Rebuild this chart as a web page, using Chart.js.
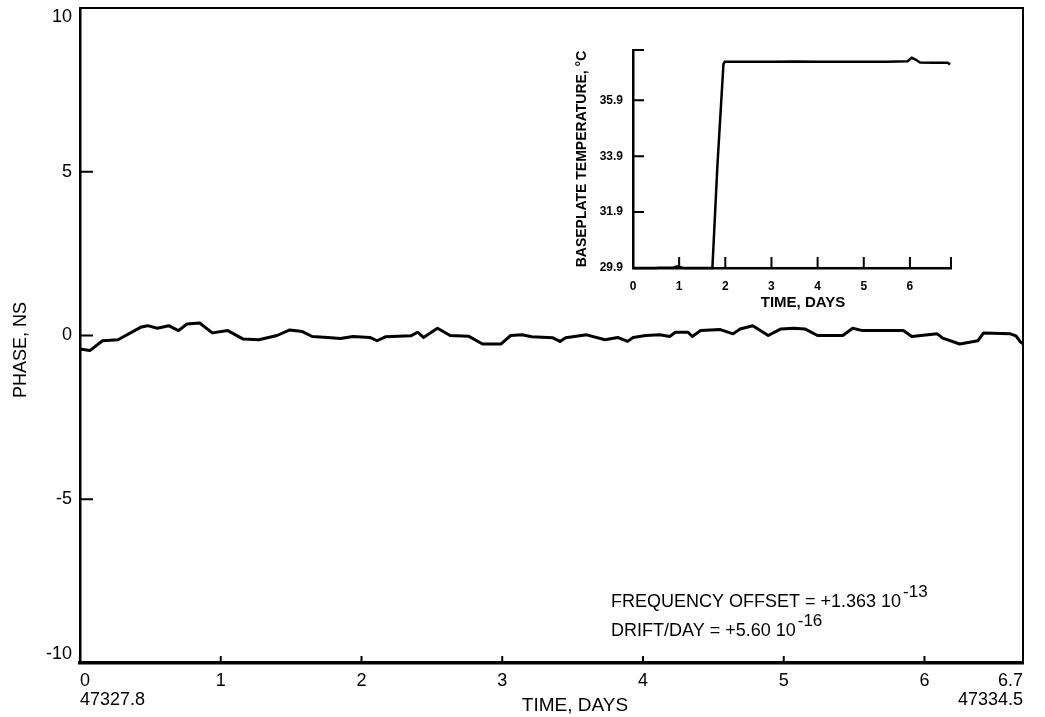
<!DOCTYPE html>
<html>
<head>
<meta charset="utf-8">
<script src="https://cdn.jsdelivr.net/npm/chart.js@4.4.1/dist/chart.umd.min.js"></script>
<style>
  html, body { margin: 0; padding: 0; background: #fff; }
  #wrap { position: relative; width: 1045px; height: 717px; }
  #mainChart { position: absolute; left: 0; top: 0; }
  #insetChart { position: absolute; left: 565px; top: 40px; }
</style>
</head>
<body>
<div id="wrap">
  <canvas id="mainChart" width="1045" height="717"></canvas>
  <canvas id="insetChart" width="400" height="280"></canvas>
</div>
<script>
// phase record (ns) vs time in days from MJD 47327.8
const phaseDays = [
  0, 0.07, 0.16, 0.27, 0.43, 0.48, 0.55, 0.63, 0.70, 0.76,
  0.85, 0.94, 1.05, 1.16, 1.27, 1.40, 1.49, 1.58, 1.65, 1.76,
  1.85, 1.94, 2.06, 2.11, 2.17, 2.35, 2.40, 2.44, 2.54, 2.63,
  2.76, 2.86, 2.99, 3.06, 3.14, 3.21, 3.36, 3.41, 3.45, 3.60,
  3.73, 3.82, 3.89, 3.93, 4.02, 4.12, 4.19, 4.23, 4.32, 4.35,
  4.41, 4.55, 4.64, 4.69, 4.78, 4.89, 4.98, 5.07, 5.15, 5.24,
  5.42, 5.49, 5.56, 5.85, 5.91, 6.09, 6.13, 6.25, 6.38, 6.42,
  6.61, 6.65, 6.68, 6.70
];
const phaseNs = [
  -0.41, -0.46, -0.16, -0.13, 0.25, 0.30, 0.22, 0.30, 0.15, 0.35,
  0.38, 0.08, 0.15, -0.11, -0.13, 0.00, 0.17, 0.12, -0.03, -0.06,
  -0.09, -0.03, -0.06, -0.16, -0.04, -0.01, 0.10, -0.06, 0.22, 0.00,
  -0.02, -0.26, -0.26, 0.00, 0.02, -0.04, -0.07, -0.18, -0.07, 0.02,
  -0.13, -0.06, -0.18, -0.06, 0.00, 0.02, -0.03, 0.10, 0.10, -0.03,
  0.15, 0.18, 0.05, 0.20, 0.30, 0.00, 0.20, 0.22, 0.20, 0.00,
  0.00, 0.22, 0.15, 0.15, -0.03, 0.05, -0.08, -0.26, -0.16, 0.08,
  0.05, -0.01, -0.19, -0.25
];
const phaseTicksX = [0, 1, 2, 3, 4, 5, 6, 6.7];
const phaseLabelsX = [['0', '47327.8'], '1', '2', '3', '4', '5', '6', ['6.7', '47334.5']];
const phaseTicksY = [-10, -5, 0, 5, 10];
// end labels sit just inside the frame, as in the original
const phaseLabelsY = [['-10', ''], '-5', '0', '5', ['', '10']];

// baseplate temperature inset
const tempDays = [0, 0.5, 0.55, 0.88, 0.97, 1.05, 1.1, 1.72, 1.83, 1.96, 1.99, 2.5, 3, 3.5, 4, 4.5, 5, 5.5, 5.95, 6.04, 6.12, 6.22, 6.5, 6.82, 6.87];
const tempC = [29.9, 29.9, 29.91, 29.92, 29.96, 29.92, 29.9, 29.9, 33.6, 37.2, 37.28, 37.28, 37.28, 37.29, 37.28, 37.28, 37.28, 37.28, 37.3, 37.42, 37.36, 37.25, 37.24, 37.24, 37.18];
const tempTicksX = [0, 1, 2, 3, 4, 5, 6];
const tempTicksY = [29.9, 31.9, 33.9, 35.9];
const tempTopY = 37.7;
const tempEndX = 6.89;

const FONT = "'Liberation Sans', Arial, Helvetica, sans-serif";
Chart.defaults.color = '#000';
Chart.defaults.font.family = FONT;

function toPoints(xs, ys) {
  return xs.map((x, i) => ({ x: x, y: ys[i] }));
}

function textWithExp(c, base, exp, x, y) {
  c.font = '18px ' + FONT;
  c.textAlign = 'left';
  c.textBaseline = 'alphabetic';
  c.fillText(base, x, y);
  const w = c.measureText(base).width;
  c.font = '17px ' + FONT;
  c.fillText(exp, x + w + 2, y - 10);
}

const mainDecor = {
  id: 'mainDecor',
  afterDraw(chart) {
    const c = chart.ctx, a = chart.chartArea;
    const sx = chart.scales.x, sy = chart.scales.y;
    c.save();
    c.strokeStyle = '#000';
    c.lineWidth = 2;
    c.beginPath();
    c.moveTo(a.left, a.top);
    c.lineTo(a.right, a.top);
    c.lineTo(a.right, a.bottom);
    c.stroke();

    // inward tick marks
    c.beginPath();
    phaseTicksY.slice(1, -1).forEach(v => {
      const y = sy.getPixelForValue(v);
      c.moveTo(a.left, y);
      c.lineTo(a.left + 13, y);
    });
    phaseTicksX.slice(1, -1).forEach(v => {
      const x = sx.getPixelForValue(v);
      c.moveTo(x, a.bottom);
      c.lineTo(x, a.bottom - 7);
    });
    c.stroke();

    c.fillStyle = '#000';
    c.font = '19px ' + FONT;
    c.textAlign = 'center';
    c.textBaseline = 'middle';
    c.fillText('TIME, DAYS', 575, 706);
    c.font = '18px ' + FONT;
    c.save();
    c.translate(21, 350);
    c.rotate(-Math.PI / 2);
    c.fillText('PHASE, NS', 0, 0);
    c.restore();

    textWithExp(c, 'FREQUENCY OFFSET = +1.363 10', '-13', 611, 607);
    textWithExp(c, 'DRIFT/DAY = +5.60 10', '-16', 611, 636);
    c.restore();
  }
};

const insetDecor = {
  id: 'insetDecor',
  afterDraw(chart) {
    const c = chart.ctx, a = chart.chartArea;
    const sx = chart.scales.x, sy = chart.scales.y;
    c.save();
    c.strokeStyle = '#000';
    c.lineWidth = 2;
    c.beginPath();
    tempTicksY.slice(1).concat([tempTopY]).forEach(v => {
      const y = sy.getPixelForValue(v);
      c.moveTo(a.left, y);
      c.lineTo(a.left + 11, y);
    });
    tempTicksX.slice(1).concat([tempEndX]).forEach(v => {
      const x = sx.getPixelForValue(v);
      c.moveTo(x, a.bottom);
      c.lineTo(x, a.bottom - 11);
    });
    c.stroke();

    c.fillStyle = '#000';
    c.font = 'bold 15px ' + FONT;
    c.textAlign = 'center';
    c.textBaseline = 'middle';
    c.fillText('TIME, DAYS', 238, 263);
    c.font = 'bold 14px ' + FONT;
    c.translate(17, 119);
    c.rotate(-Math.PI / 2);
    c.fillText('BASEPLATE TEMPERATURE, °C', 0, 0);
    c.restore();
  }
};

new Chart(document.getElementById('mainChart'), {
  type: 'line',
  data: {
    datasets: [{
      data: toPoints(phaseDays, phaseNs),
      borderColor: '#000',
      borderWidth: 3,
      pointRadius: 0,
      tension: 0,
      borderJoinStyle: 'round',
      clip: false
    }]
  },
  options: {
    responsive: false,
    animation: false,
    devicePixelRatio: 1,
    layout: { autoPadding: false, padding: { top: 8, right: 22, bottom: 0, left: 0 } },
    plugins: { legend: { display: false }, tooltip: { enabled: false } },
    scales: {
      x: {
        type: 'linear',
        min: 0,
        max: 6.7,
        afterBuildTicks: s => { s.ticks = phaseTicksX.map(v => ({ value: v })); },
        afterFit: s => { s.height = 54; },
        grid: { display: false, drawTicks: false },
        border: { display: true, color: '#000', width: 3.5 },
        ticks: {
          align: 'inner',
          maxRotation: 0,
          autoSkip: false,
          padding: 8,
          font: { size: 18, lineHeight: 1.06 },
          callback: (v, i) => phaseLabelsX[i]
        }
      },
      y: {
        min: -10,
        max: 10,
        afterBuildTicks: s => { s.ticks = phaseTicksY.map(v => ({ value: v })); },
        afterFit: s => { s.width = 80; s.paddingTop = 0; s.paddingBottom = 0; },
        grid: { display: false, drawTicks: false },
        border: { display: true, color: '#000', width: 2.5 },
        ticks: {
          padding: 8,
          font: { size: 18, lineHeight: 1.0 },
          callback: (v, i) => phaseLabelsY[i]
        }
      }
    }
  },
  plugins: [mainDecor]
});

new Chart(document.getElementById('insetChart'), {
  type: 'line',
  data: {
    datasets: [{
      data: toPoints(tempDays, tempC),
      borderColor: '#000',
      borderWidth: 2.5,
      pointRadius: 0,
      tension: 0,
      clip: false
    }]
  },
  options: {
    responsive: false,
    animation: false,
    devicePixelRatio: 1,
    layout: { autoPadding: false, padding: { top: 10, right: 14, bottom: 0, left: 0 } },
    plugins: { legend: { display: false }, tooltip: { enabled: false } },
    scales: {
      x: {
        type: 'linear',
        min: 0,
        max: tempEndX,
        afterBuildTicks: s => { s.ticks = tempTicksX.map(v => ({ value: v })); },
        afterFit: s => { s.height = 52; },
        grid: { display: false, drawTicks: false },
        border: { display: true, color: '#000', width: 2.5 },
        ticks: {
          maxRotation: 0,
          autoSkip: false,
          padding: 11,
          font: { size: 12, weight: 'bold' },
          callback: v => String(v)
        }
      },
      y: {
        min: 29.9,
        max: tempTopY,
        afterBuildTicks: s => { s.ticks = tempTicksY.map(v => ({ value: v })); },
        afterFit: s => { s.width = 68; s.paddingTop = 0; s.paddingBottom = 0; },
        grid: { display: false, drawTicks: false },
        border: { display: true, color: '#000', width: 2.5 },
        ticks: {
          padding: 10,
          font: { size: 12, weight: 'bold' },
          callback: v => v.toFixed(1)
        }
      }
    }
  },
  plugins: [insetDecor]
});
</script>
</body>
</html>
